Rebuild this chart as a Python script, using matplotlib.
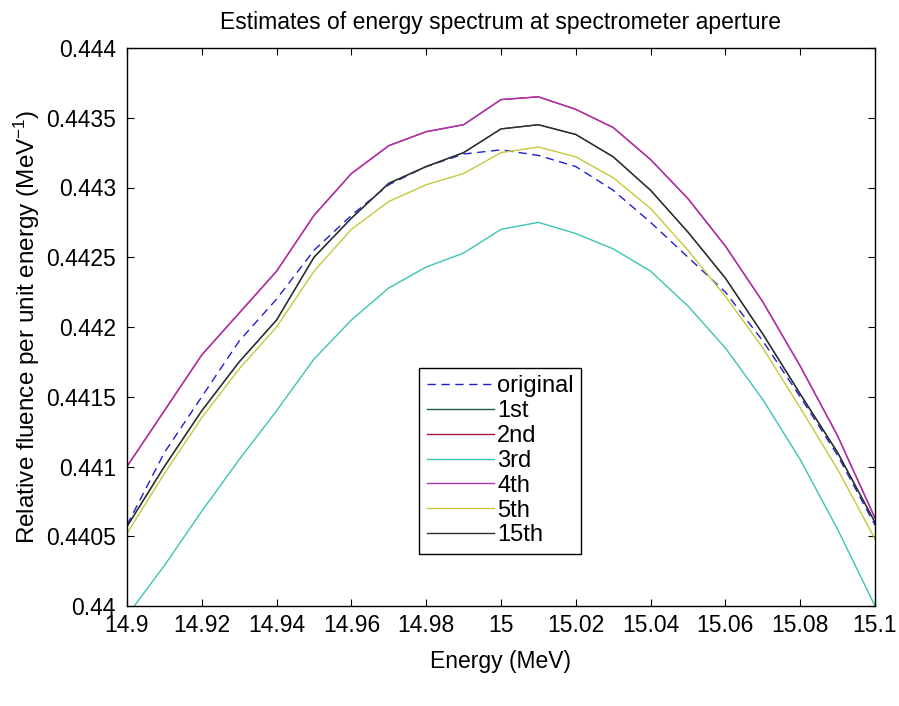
import matplotlib
matplotlib.use("Agg")
import matplotlib.pyplot as plt

plt.rcParams['font.family'] = ['Liberation Sans', 'DejaVu Sans']
plt.rcParams['mathtext.default'] = 'regular'

# Energy grid (MeV)
energy = [14.90, 14.91, 14.92, 14.93, 14.94, 14.95, 14.96, 14.97, 14.98, 14.99, 15.00,
          15.01, 15.02, 15.03, 15.04, 15.05, 15.06, 15.07, 15.08, 15.09, 15.10]

# Relative fluence per unit energy for each estimate
original = [0.44058, 0.44110, 0.44150, 0.44190, 0.44220, 0.44255, 0.44280, 0.44302, 0.44315, 0.44324, 0.44327,
            0.44323, 0.44315, 0.44298, 0.44275, 0.44250, 0.44225, 0.44190, 0.44150, 0.44108, 0.44058]
est_1st = [0.44057, 0.44100, 0.44140, 0.44175, 0.44205, 0.44250, 0.44278, 0.44303, 0.44315, 0.44325, 0.44342,
           0.44345, 0.44338, 0.44322, 0.44298, 0.44268, 0.44235, 0.44195, 0.44152, 0.44110, 0.44060]
est_2nd = [0.44100, 0.44140, 0.44180, 0.44210, 0.44240, 0.44280, 0.44310, 0.44330, 0.44340, 0.44345, 0.44363,
           0.44365, 0.44356, 0.44343, 0.44320, 0.44292, 0.44258, 0.44218, 0.44172, 0.44122, 0.44063]
est_3rd = [0.43993, 0.44029, 0.44068, 0.44105, 0.44140, 0.44177, 0.44205, 0.44228, 0.44243, 0.44253, 0.44270,
           0.44275, 0.44267, 0.44256, 0.44240, 0.44215, 0.44185, 0.44148, 0.44105, 0.44055, 0.44000]
est_4th = [0.44100, 0.44140, 0.44180, 0.44210, 0.44240, 0.44280, 0.44310, 0.44330, 0.44340, 0.44345, 0.44363,
           0.44365, 0.44356, 0.44343, 0.44320, 0.44292, 0.44258, 0.44218, 0.44172, 0.44122, 0.44063]
est_5th = [0.44052, 0.44095, 0.44135, 0.44170, 0.44200, 0.44240, 0.44270, 0.44290, 0.44302, 0.44310, 0.44325,
           0.44329, 0.44322, 0.44307, 0.44285, 0.44255, 0.44222, 0.44185, 0.44142, 0.44098, 0.44048]
est_15th = [0.44057, 0.44100, 0.44140, 0.44175, 0.44205, 0.44250, 0.44278, 0.44303, 0.44315, 0.44325, 0.44342,
            0.44345, 0.44338, 0.44322, 0.44298, 0.44268, 0.44235, 0.44195, 0.44152, 0.44110, 0.44060]

series_labels = ['original', '1st', '2nd', '3rd', '4th', '5th', '15th']

x_ticks = [14.90, 14.92, 14.94, 14.96, 14.98, 15.00, 15.02, 15.04, 15.06, 15.08, 15.10]
x_tick_labels = ['14.9', '14.92', '14.94', '14.96', '14.98', '15', '15.02', '15.04', '15.06', '15.08', '15.1']
y_ticks = [0.4400, 0.4405, 0.4410, 0.4415, 0.4420, 0.4425, 0.4430, 0.4435, 0.4440]
y_tick_labels = ['0.44', '0.4405', '0.441', '0.4415', '0.442', '0.4425', '0.443', '0.4435', '0.444']

fs = 16.5

fig = plt.figure(figsize=(8.99, 7.06), dpi=100)
ax = fig.add_axes([127 / 899, 100 / 706, 748 / 899, 558 / 706])

lw = 1.0
ax.plot(energy, original, color='#1f1fd0', linestyle=(0, (6, 4)), linewidth=lw, label=series_labels[0])
ax.plot(energy, est_1st, color='#2a5a4a', linewidth=lw, label=series_labels[1])
ax.plot(energy, est_2nd, color='#a0184c', linewidth=lw, label=series_labels[2])
ax.plot(energy, est_3rd, color='#3cc4b4', linewidth=lw, label=series_labels[3])
ax.plot(energy, est_4th, color='#b034b4', linewidth=lw, label=series_labels[4])
ax.plot(energy, est_5th, color='#c8c83c', linewidth=lw, label=series_labels[5])
ax.plot(energy, est_15th, color='#303030', linewidth=lw, label=series_labels[6])

ax.set_xlim(14.9, 15.1)
ax.set_ylim(0.44, 0.444)
ax.set_xticks(x_ticks)
ax.set_xticklabels(x_tick_labels)
ax.set_yticks(y_ticks)
ax.set_yticklabels(y_tick_labels)

ax.tick_params(direction='in', length=5, width=0.8, top=True, right=True,
               labelsize=fs, colors='black')
ax.tick_params(axis='y', pad=8)
ax.tick_params(axis='x', pad=6)
for s in ax.spines.values():
    s.set_linewidth(1.0)
    s.set_color('black')

ax.set_title('Estimates of energy spectrum at spectrometer aperture', fontsize=fs, pad=14)
ax.set_xlabel('Energy (MeV)', fontsize=fs, labelpad=9)
ax.set_ylabel('Relative fluence per unit energy (MeV$^{-1}$)', fontsize=17.5, labelpad=3)

leg = ax.legend(loc='center', bbox_to_anchor=(0.499, 0.26), fontsize=17,
                handlelength=2.85, handletextpad=0.15, labelspacing=0.12,
                borderpad=0.3, borderaxespad=0, fancybox=False, framealpha=1,
                edgecolor='black')
leg.get_frame().set_linewidth(1.0)

fig.savefig('out.png', dpi=100)
